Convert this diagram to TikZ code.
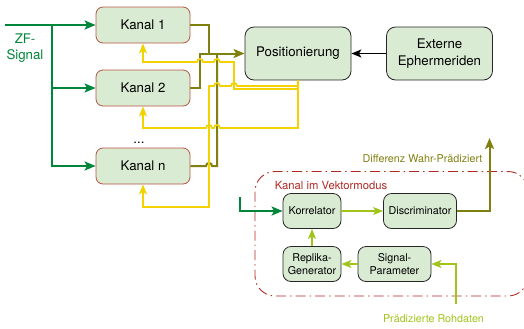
\documentclass[tikz,border=0pt]{standalone}
\usepackage{fontspec}
\setmainfont{TeX Gyre Heros}
\usetikzlibrary{arrows.meta}
\definecolor{nodefill}{RGB}{218,235,212}
\definecolor{kanalborder}{RGB}{184,84,64}
\definecolor{dgreen}{RGB}{0,134,58}
\definecolor{oliveln}{RGB}{128,128,16}
\definecolor{yel}{RGB}{242,210,0}
\definecolor{lgreen}{RGB}{160,196,26}
\definecolor{dred}{RGB}{178,40,34}
\begin{document}
\begin{tikzpicture}[x=1bp,y=-1bp,
  kanal/.style={draw=kanalborder, fill=nodefill, rounded corners=7bp, minimum width=94bp, minimum height=36bp, line width=0.8bp, font=\fontsize{13.3}{16}\selectfont, inner sep=0pt},
  bigbox/.style={draw=black!85, fill=nodefill, rounded corners=9bp, minimum width=106bp, minimum height=53bp, line width=0.8bp, font=\fontsize{13.3}{17}\selectfont, align=center, inner sep=0pt},
  smallbox/.style={draw=black!85, fill=nodefill, rounded corners=8bp, minimum height=35bp, line width=0.8bp, font=\fontsize{10.8}{12.5}\selectfont, align=center, inner sep=0pt},
  tipA/.style={-{Stealth[length=11bp,width=9bp,inset=2.5bp]}},
  tipB/.style={-{Stealth[length=10bp,width=8bp,inset=2.5bp]}},
  gline/.style={draw=dgreen, line width=2bp, tipA, dgreen},
  oline/.style={draw=oliveln, line width=2bp, oliveln},
  yline/.style={draw=yel, line width=1.7bp, yel, tipB},
  lgline/.style={draw=lgreen, line width=1.4bp, lgreen, tipB},
  bline/.style={draw=black, line width=1.4bp, tipB},
  lbl/.style={font=\fontsize{10.8}{13}\selectfont, inner sep=0pt}
]
\useasboundingbox (0,0) rectangle (524,328);

% nodes upper part
\node[kanal] (k1) at (143,25) {Kanal 1};
\node[kanal] (k2) at (143,88) {Kanal 2};
\node[kanal] (kn) at (143,166) {Kanal n};
\node[anchor=base, font=\fontsize{13.3}{16}\selectfont, inner sep=0pt] (dots) at (139,143) {...};
\node[bigbox] (pos) at (298,53.5) {Positionierung};
\node[bigbox] (ext) at (439.5,53.5) {Externe\\Ephermeriden};
\node[text=dgreen, align=center, font=\fontsize{13.3}{16}\selectfont, inner sep=0pt] (zf) at (25,48) {ZF-\\Signal};

% ZF signal distribution
\coordinate (zfstart) at (5,25);
\coordinate (gsplit) at (52,25);
\draw[gline] (zfstart) -- (k1.west);
\draw[gline] (gsplit) |- (k2.west);
\draw[gline] (gsplit) |- (kn.west);

% olive outputs to Positionierung
\draw[oline] (k1.east) -- (209,25) -- (209,53.5);
\draw[oline, tipA] (k2.east) -- (200,88) -- (200,53.5) -- (pos.west);
\draw[oline] (kn.east) -- (206,166) .. controls (206,162) and (212,162) .. (212,166) -- (217,166) -- (217,53.5);

% Externe -> Positionierung
\draw[bline] (ext.west) -- (pos.east);

% yellow feedback lines
% to Kanal 1
\draw[yline] (pos.south) -- (298,89) -- (234,89) -- (234,62)
  -- (220,62) .. controls (220,58) and (214,58) .. (214,62)
  -- (203,62) .. controls (203,58) and (197,58) .. (197,62)
  -- (143,62) -- (k1.south);
% to Kanal n
\draw[yline] (pos.south) -- (298,86)
  -- (237,86) .. controls (237,82) and (231,82) .. (231,86)
  -- (220,86) .. controls (220,82) and (214,82) .. (214,86)
  -- (209,86) -- (209,207) -- (143,207) -- (kn.south);
% to Kanal 2
\draw[yline] (pos.south) -- (298,128)
  -- (220,128) .. controls (220,124) and (214,124) .. (214,128)
  -- (212,128) .. controls (212,124) and (206,124) .. (206,128)
  -- (143,128) -- (k2.south);

% lower part: channel in vector mode
\draw[dred, line width=0.9bp, dash pattern=on 10bp off 4bp on 1.5bp off 4bp, rounded corners=20bp] (255,171.5) rectangle (528,296);
\node[text=dred, font=\fontsize{11.3}{13}\selectfont, inner sep=0pt] (kvm) at (331,185) {Kanal im Vektormodus};

\node[smallbox, minimum width=58bp] (korr) at (312,211) {Korrelator};
\node[smallbox, minimum width=73bp] (disc) at (420,211) {Discriminator};
\node[smallbox, minimum width=58bp] (repl) at (312,264) {Replika-\\Generator};
\node[smallbox, minimum width=73bp] (sig) at (394.5,264) {Signal-\\Parameter};

\coordinate (vin) at (240,197);
\draw[gline] (vin) |- (korr.west);
\draw[lgline] (korr.east) -- (disc.west);
\draw[lgline] (repl.north) -- (korr.south);
\draw[lgline] (sig.west) -- (repl.east);
\coordinate (rohd) at (456,304);
\draw[lgline] (rohd) |- (sig.east);
\coordinate (diffend) at (489.5,138);
\draw[oline, tipA] (disc.east) -| (diffend);

\node[lbl, text=oliveln] (difflbl) at (422.5,159) {Differenz Wahr-Prädiziert};
\node[lbl, text=lgreen] (rohlbl) at (433.5,319) {Prädizierte Rohdaten};
\end{tikzpicture}
\end{document}
